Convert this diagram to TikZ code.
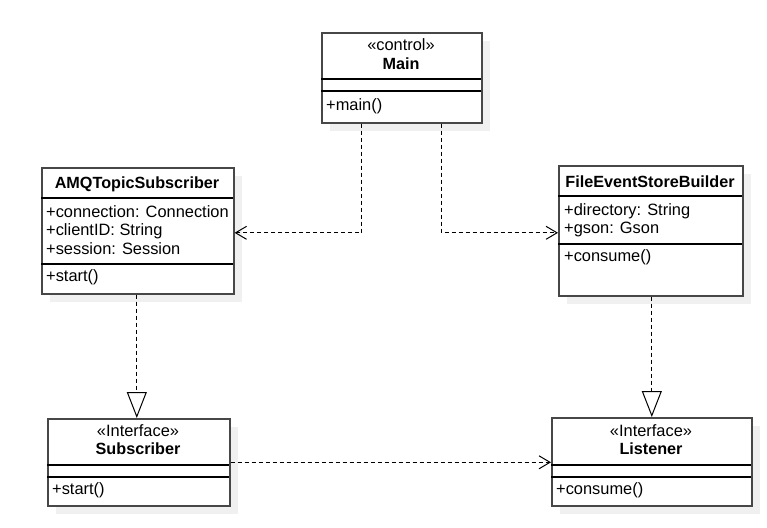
\documentclass[tikz,border=0pt]{standalone}
\usepackage{fontspec}
\setmainfont{Liberation Sans}
\usetikzlibrary{arrows.meta,shadows}
\begin{document}
\begin{tikzpicture}[x=1pt,y=-1pt,
  umlbox/.style={draw=black!72,line width=1.6pt,fill=white,anchor=north west,inner sep=0pt,
    drop shadow={shadow xshift=8pt,shadow yshift=-8pt,fill=black!6,opacity=1}},
  sepline/.style={draw=black,line width=1.2pt},
  txt/.style={inner sep=0pt,font=\fontsize{16.4pt}{19pt}\selectfont},
  ttl/.style={txt,anchor=base},
  bttl/.style={txt,anchor=base,font=\fontsize{16.2pt}{19pt}\selectfont\bfseries},
  mem/.style={txt,anchor=base west},
  dep/.style={draw=black,line width=1pt,dash pattern=on 4pt off 3pt,
    -{Straight Barb[length=11pt,width=13pt,line width=1pt]}},
  real/.style={draw=black,line width=1pt,dash pattern=on 4pt off 3pt,
    -{Triangle[open,length=26pt,width=20pt,line width=1pt]}}]
\fill[white] (0,0) rectangle (767,527);
\useasboundingbox (0,0) rectangle (767,527);

% Main
\node[umlbox,minimum width=160pt,minimum height=90pt] (main) at (321,32) {};
\draw[sepline] (321,79) -- (481,79);
\draw[sepline] (321,91) -- (481,91);
\node[ttl] (mainst) at (401,50) {«control»};
\node[bttl] (mainnm) at (401,69) {Main};
\node[mem] (mainm1) at (326,110) {+main()};

% AMQTopicSubscriber
\node[umlbox,minimum width=192pt,minimum height=126pt] (amq) at (41,167) {};
\draw[sepline] (41,198) -- (233,198);
\draw[sepline] (41,264) -- (233,264);
\node[bttl] (amqnm) at (137,188) {AMQTopicSubscriber};
\node[mem] (amqa1) at (46,217) {+connection: Connection};
\node[mem] (amqa2) at (46,235.5) {+clientID: String};
\node[mem] (amqa3) at (46,254) {+session: Session};
\node[mem] (amqm1) at (46,281) {+start()};

% FileEventStoreBuilder
\node[umlbox,minimum width=184pt,minimum height=130pt] (feb) at (558,165) {};
\draw[sepline] (558,196) -- (742,196);
\draw[sepline] (558,244) -- (742,244);
\node[bttl] (febnm) at (650,187) {FileEventStoreBuilder};
\node[mem] (feba1) at (564,215) {+directory: String};
\node[mem] (feba2) at (564,233.5) {+gson: Gson};
\node[mem] (febm1) at (564,261) {+consume()};

% Subscriber
\node[umlbox,minimum width=182pt,minimum height=87pt] (sub) at (47,418) {};
\draw[sepline] (47,465) -- (229,465);
\draw[sepline] (47,477) -- (229,477);
\node[ttl] (subst) at (138,436.5) {«Interface»};
\node[bttl] (subnm) at (138,454.5) {Subscriber};
\node[mem] (subm1) at (52,494) {+start()};

% Listener
\node[umlbox,minimum width=200pt,minimum height=88pt] (lis) at (551,417) {};
\draw[sepline] (551,465) -- (751,465);
\draw[sepline] (551,477) -- (751,477);
\node[ttl] (lisst) at (651,436.5) {«Interface»};
\node[bttl] (lisnm) at (651,454.5) {Listener};
\node[mem] (lism1) at (556,494) {+consume()};

% connectors
\draw[dep] ([xshift=-40pt]main.south) |- ([yshift=-2pt]amq.east);
\draw[dep] ([xshift=40pt]main.south) |- ([yshift=-2pt]feb.west);
\draw[real] ([xshift=-1pt]amq.south) -- ([xshift=-1pt]amq.south |- sub.north);
\draw[real] ([xshift=1pt]feb.south) -- ([xshift=1pt]feb.south |- lis.north);
\draw[dep] (sub.east) -- (sub.east -| lis.west);
\end{tikzpicture}
\end{document}
